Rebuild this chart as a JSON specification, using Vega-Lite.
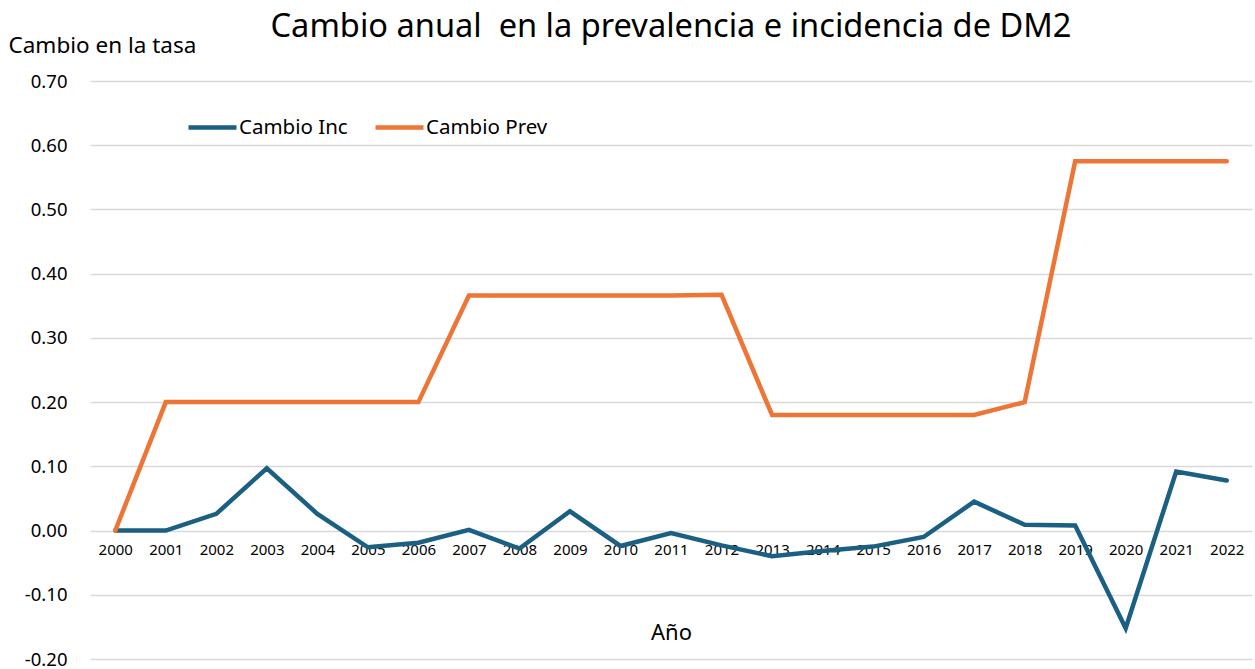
{
  "$schema": "https://vega.github.io/schema/vega-lite/v6.json",
  "autosize": {"type": "none"},
  "width": 1162,
  "height": 578,
  "padding": {"left": 90, "top": 81, "right": 3, "bottom": 10},
  "background": "white",
  "config": {"font": "Noto Sans", "view": {"stroke": null}},
  "title": {"text": "Cambio anual \u00a0en la prevalencia e incidencia de DM2", "fontSize": 32.6, "fontWeight": "normal", "color": "#000000", "anchor": "middle", "offset": -10, "font": "Noto Sans"},
  "data": {"values": [
    {"year": "2000", "serie": "Cambio Inc", "v": 0.0},
    {"year": "2001", "serie": "Cambio Inc", "v": 0.0},
    {"year": "2002", "serie": "Cambio Inc", "v": 0.026},
    {"year": "2003", "serie": "Cambio Inc", "v": 0.097},
    {"year": "2004", "serie": "Cambio Inc", "v": 0.026},
    {"year": "2005", "serie": "Cambio Inc", "v": -0.026},
    {"year": "2006", "serie": "Cambio Inc", "v": -0.019},
    {"year": "2007", "serie": "Cambio Inc", "v": 0.001},
    {"year": "2008", "serie": "Cambio Inc", "v": -0.028},
    {"year": "2009", "serie": "Cambio Inc", "v": 0.030},
    {"year": "2010", "serie": "Cambio Inc", "v": -0.024},
    {"year": "2011", "serie": "Cambio Inc", "v": -0.004},
    {"year": "2012", "serie": "Cambio Inc", "v": -0.023},
    {"year": "2013", "serie": "Cambio Inc", "v": -0.040},
    {"year": "2014", "serie": "Cambio Inc", "v": -0.032},
    {"year": "2015", "serie": "Cambio Inc", "v": -0.025},
    {"year": "2016", "serie": "Cambio Inc", "v": -0.010},
    {"year": "2017", "serie": "Cambio Inc", "v": 0.045},
    {"year": "2018", "serie": "Cambio Inc", "v": 0.009},
    {"year": "2019", "serie": "Cambio Inc", "v": 0.008},
    {"year": "2020", "serie": "Cambio Inc", "v": -0.152},
    {"year": "2021", "serie": "Cambio Inc", "v": 0.092},
    {"year": "2022", "serie": "Cambio Inc", "v": 0.078},
    {"year": "2000", "serie": "Cambio Prev", "v": 0.0},
    {"year": "2001", "serie": "Cambio Prev", "v": 0.20},
    {"year": "2002", "serie": "Cambio Prev", "v": 0.20},
    {"year": "2003", "serie": "Cambio Prev", "v": 0.20},
    {"year": "2004", "serie": "Cambio Prev", "v": 0.20},
    {"year": "2005", "serie": "Cambio Prev", "v": 0.20},
    {"year": "2006", "serie": "Cambio Prev", "v": 0.20},
    {"year": "2007", "serie": "Cambio Prev", "v": 0.366},
    {"year": "2008", "serie": "Cambio Prev", "v": 0.366},
    {"year": "2009", "serie": "Cambio Prev", "v": 0.366},
    {"year": "2010", "serie": "Cambio Prev", "v": 0.366},
    {"year": "2011", "serie": "Cambio Prev", "v": 0.366},
    {"year": "2012", "serie": "Cambio Prev", "v": 0.367},
    {"year": "2013", "serie": "Cambio Prev", "v": 0.180},
    {"year": "2014", "serie": "Cambio Prev", "v": 0.180},
    {"year": "2015", "serie": "Cambio Prev", "v": 0.180},
    {"year": "2016", "serie": "Cambio Prev", "v": 0.180},
    {"year": "2017", "serie": "Cambio Prev", "v": 0.180},
    {"year": "2018", "serie": "Cambio Prev", "v": 0.20},
    {"year": "2019", "serie": "Cambio Prev", "v": 0.575},
    {"year": "2020", "serie": "Cambio Prev", "v": 0.575},
    {"year": "2021", "serie": "Cambio Prev", "v": 0.575},
    {"year": "2022", "serie": "Cambio Prev", "v": 0.575}
  ]},
  "mark": {"type": "line", "strokeWidth": 4.5, "strokeCap": "round"},
  "encoding": {
    "x": {
      "field": "year", "type": "ordinal",
      "scale": {"type": "point", "padding": 0.5},
      "axis": {
        "title": "Año", "titleFontSize": 22, "titleFontWeight": "normal", "titleColor": "#000000", "titleFont": "Noto Sans",
        "titlePadding": 65,
        "labelAngle": 0, "labelFontSize": 15, "labelColor": "#000000", "labelPadding": 11,
        "ticks": false, "domain": false, "grid": false, "offset": -128
      }
    },
    "y": {
      "field": "v", "type": "quantitative",
      "scale": {"domain": [-0.2, 0.7], "nice": false, "zero": false},
      "axis": {
        "values": [-0.2, -0.1, 0, 0.1, 0.2, 0.3, 0.4, 0.5, 0.6, 0.7],
        "labelExpr": "replace(format(datum.value, '.2f'), '\u2212', '-')",
        "labelFontSize": 18.5, "labelColor": "#000000", "labelPadding": 23,
        "ticks": false, "domain": false,
        "grid": true, "gridColor": "#d9d9d9", "gridWidth": 1.3,
        "title": "Cambio en la tasa", "titleAngle": 0, "titleAlign": "left", "titleBaseline": "alphabetic",
        "titleX": -82, "titleY": -29, "titleFontSize": 22.5, "titleFontWeight": "normal", "titleColor": "#000000"
      }
    },
    "color": {
      "field": "serie", "type": "nominal",
      "scale": {"domain": ["Cambio Inc", "Cambio Prev"], "range": ["#1b6082", "#ed7535"]},
      "legend": {
        "title": null, "orient": "none", "direction": "horizontal",
        "legendX": 96, "legendY": 20,
        "symbolType": "stroke", "symbolSize": 2304, "symbolStrokeWidth": 4.5,
        "labelFontSize": 20.5, "labelColor": "#000000", "labelOffset": 0,
        "columnPadding": 18
      }
    }
  }
}
